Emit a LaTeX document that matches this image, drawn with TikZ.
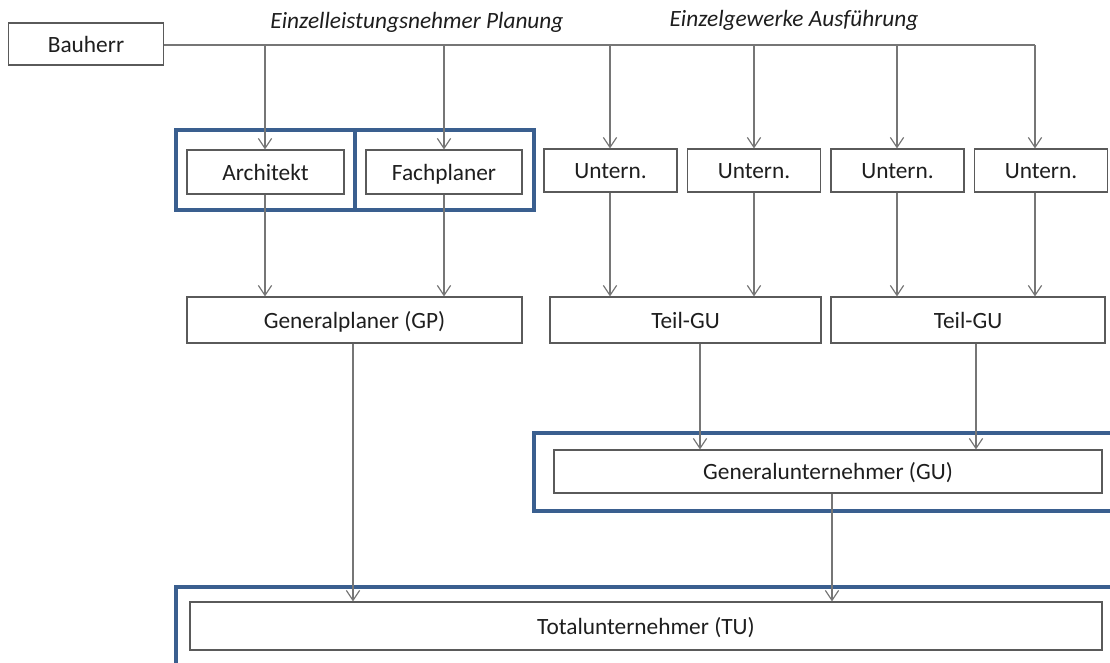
\documentclass[tikz,border=0pt]{standalone}
\usepackage{fontspec}
\setmainfont{Carlito}
\usetikzlibrary{arrows.meta}
\definecolor{frameblue}{HTML}{3A5F8F}
\definecolor{boxline}{HTML}{5A5A5A}
\definecolor{linkgray}{HTML}{767676}
\definecolor{txt}{HTML}{1E1E1E}
\begin{document}
\begin{tikzpicture}[x=0.75pt,y=-0.75pt,
  box/.style={draw=boxline,line width=0.8pt,fill=white,text=txt,inner sep=0pt,
    text height=13pt,text depth=1pt,
    font=\fontsize{17.5}{20}\selectfont},
  link/.style={draw=linkgray,line width=0.9pt},
  arr/.style={link,-{Straight Barb[length=7.5pt,width=10pt,line width=0.9pt]}},
  frame/.style={draw=frameblue,line width=2.3pt},
  head/.style={text=txt,font=\fontsize{17.5}{20}\selectfont\itshape,inner sep=0pt}]
\useasboundingbox (0,0) rectangle (1110,662);
\clip (0,0) rectangle (1110,662);

% highlight frames
\draw[frame] (176,130) rectangle (355,210);
\draw[frame] (355,130) rectangle (534,210);
\draw[frame] (534,433) rectangle (1120,511);
\draw[frame] (176,587) rectangle (1120,672);

% boxes
\node[box,minimum width=155*0.75pt,minimum height=42*0.75pt] (bh) at (86,44) {Bauherr};
\node[box,minimum width=157*0.75pt,minimum height=44*0.75pt] (ar) at (265.5,172) {Architekt};
\node[box,minimum width=156*0.75pt,minimum height=44*0.75pt] (fp) at (444,172) {Fachplaner};
\foreach \n/\x in {u1/610.5,u2/754,u3/897.5,u4/1041}
  \node[box,minimum width=133*0.75pt,minimum height=43*0.75pt] (\n) at (\x,170.5) {Untern.};
\node[box,minimum width=335*0.75pt,minimum height=46*0.75pt] (gp) at (354.5,320) {Generalplaner (GP)};
\node[box,minimum width=271*0.75pt,minimum height=46*0.75pt] (tg1) at (685.5,320) {Teil-GU};
\node[box,minimum width=274*0.75pt,minimum height=46*0.75pt] (tg2) at (968,320) {Teil-GU};
\node[box,minimum width=548*0.75pt,minimum height=43*0.75pt] (gu) at (828,471.5) {Generalunternehmer (GU)};
\node[box,minimum width=912*0.75pt,minimum height=48*0.75pt] (tu) at (646,626) {Totalunternehmer (TU)};

% headings
\node[head] (h1) at (417,22) {Einzelleistungsnehmer Planung};
\node[head] (h2) at (794,20) {Einzelgewerke Ausführung};

% distribution line from the client
\coordinate (d1) at (265,45);
\coordinate (d2) at (444,45);
\coordinate (d3) at (610,45);
\coordinate (d4) at (754,45);
\coordinate (d5) at (897,45);
\coordinate (d6) at (1035,45);
\draw[link] (bh.east |- d1) -- (d6);
\draw[arr] (d1) -- (d1 |- ar.north);
\draw[arr] (d2) -- (d2 |- fp.north);
\draw[arr] (d3) -- (d3 |- u1.north);
\draw[arr] (d4) -- (d4 |- u2.north);
\draw[arr] (d5) -- (d5 |- u3.north);
\draw[arr] (d6) -- (d6 |- u4.north);

% planning branch
\draw[arr] (d1 |- ar.south) -- (d1 |- gp.north);
\draw[arr] (d2 |- fp.south) -- (d2 |- gp.north);
\coordinate (g1) at (353,0);
\draw[arr] (g1 |- gp.south) -- (g1 |- tu.north);

% execution branch
\draw[arr] (d3 |- u1.south) -- (d3 |- tg1.north);
\draw[arr] (d4 |- u2.south) -- (d4 |- tg1.north);
\draw[arr] (d5 |- u3.south) -- (d5 |- tg2.north);
\draw[arr] (d6 |- u4.south) -- (d6 |- tg2.north);
\coordinate (t1) at (700,0);
\coordinate (t2) at (976,0);
\draw[arr] (t1 |- tg1.south) -- (t1 |- gu.north);
\draw[arr] (t2 |- tg2.south) -- (t2 |- gu.north);
\coordinate (k1) at (832,0);
\draw[arr] (k1 |- gu.south) -- (k1 |- tu.north);
\end{tikzpicture}
\end{document}
